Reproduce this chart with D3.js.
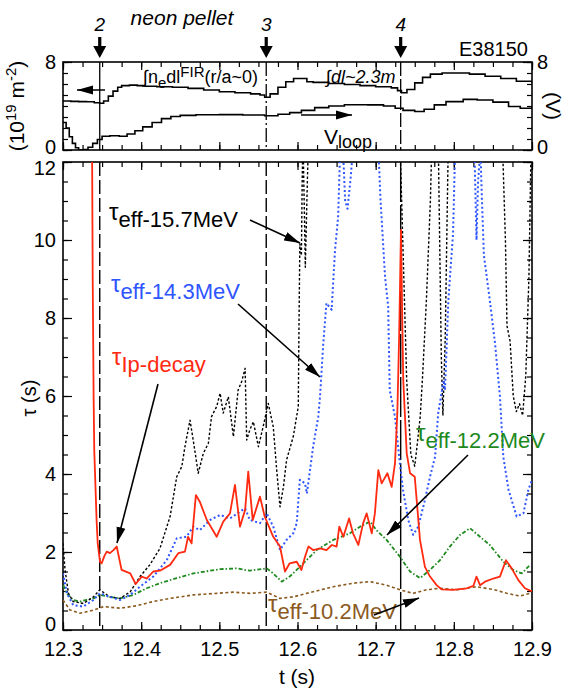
<!DOCTYPE html>
<html>
<head>
<meta charset="utf-8">
<script src="https://cdn.jsdelivr.net/npm/d3@7"></script>
<style>
  body { margin: 0; background: #fff; }
  text { font-family: "Liberation Sans", Arial, Helvetica, sans-serif; }
</style>
</head>
<body>
<svg id="chart" width="567" height="693"></svg>
<script>
// pellet injection times and their numbers
var pellets = [12.347, 12.56, 12.732];
var pelletLabels = ["2", "3", "4"];

// top panel: line density (10^19 m^-2) and loop voltage (V)
var density = [[12.300,4.45],[12.310,4.42],[12.320,4.40],[12.330,4.38],[12.340,4.30],[12.347,4.25],[12.352,4.45],
  [12.358,4.9],[12.364,5.35],[12.370,5.7],[12.375,5.85],[12.385,5.9],[12.395,5.85],[12.405,5.8],[12.420,5.75],
  [12.440,5.7],[12.460,5.6],[12.480,5.45],[12.500,5.3],[12.520,5.2],[12.540,5.1],[12.552,5.0],[12.558,4.8],
  [12.565,5.1],[12.575,5.7],[12.585,6.2],[12.595,6.5],[12.605,6.5],[12.612,6.2],[12.620,6.15],[12.640,6.05],
  [12.660,5.95],[12.680,5.85],[12.700,5.75],[12.720,5.65],[12.728,5.4],[12.733,5.2],[12.740,5.5],[12.750,6.1],
  [12.760,6.6],[12.770,6.9],[12.785,7.0],[12.800,7.0],[12.820,6.9],[12.840,6.7],[12.860,6.5],[12.880,6.25],[12.900,6.1]];
var vloop = [[12.300,2.5],[12.304,2.0],[12.308,1.2],[12.312,0.6],[12.316,0.2],[12.320,0.02],[12.326,0.05],[12.332,0.25],
  [12.338,0.6],[12.344,0.95],[12.350,1.25],[12.360,1.3],[12.372,1.25],[12.382,1.45],[12.392,1.75],[12.402,2.1],
  [12.414,2.5],[12.426,2.85],[12.438,3.05],[12.450,3.15],[12.470,3.2],[12.500,3.22],[12.530,3.18],[12.558,3.12],
  [12.575,3.25],[12.590,3.4],[12.605,3.6],[12.622,3.85],[12.640,4.0],[12.660,4.12],[12.690,4.1],[12.710,4.0],
  [12.725,3.8],[12.735,3.6],[12.750,3.5],[12.762,3.7],[12.775,4.1],[12.790,4.4],[12.812,4.6],[12.830,4.55],
  [12.850,4.35],[12.870,3.95],[12.885,3.8],[12.900,3.95]];

// bottom panel: decay times (s)
var ipDecay = [[12.3368,14],[12.3380,9],[12.3392,5.9],[12.340,4.6],[12.3415,3.7],[12.343,2.8],[12.3444,2.23],
  [12.3473,1.75],[12.3495,1.71],[12.353,1.9],[12.356,2.01],[12.360,1.97],[12.3645,2.05],[12.3687,2.14],[12.375,1.54],
  [12.386,1.45],[12.393,1.18],[12.4007,1.37],[12.407,1.32],[12.4155,1.50],[12.424,1.52],[12.437,1.67],[12.4475,1.97],
  [12.456,2.01],[12.460,2.39],[12.4645,2.22],[12.470,3.46],[12.475,3.29],[12.484,2.82],[12.4966,2.39],[12.505,2.78],
  [12.5136,2.99],[12.520,3.72],[12.5264,2.65],[12.533,3.08],[12.537,4.06],[12.5427,2.82],[12.552,3.42],[12.558,2.91],
  [12.569,2.39],[12.5776,2.14],[12.584,1.50],[12.590,1.71],[12.599,1.75],[12.605,1.54],[12.6096,1.88],[12.614,2.14],
  [12.620,2.05],[12.629,2.09],[12.637,2.05],[12.644,2.18],[12.650,2.14],[12.6535,2.65],[12.6586,2.39],[12.666,2.86],
  [12.671,2.48],[12.6778,2.18],[12.684,2.74],[12.6885,2.99],[12.695,2.48],[12.699,2.99],[12.7034,4.10],[12.7077,3.76],
  [12.715,4.02],[12.7205,3.67],[12.7247,4.27],[12.7277,5.56],[12.730,7.5],[12.7324,10.26],[12.734,8.0],[12.7353,6.41],
  [12.7397,4.53],[12.744,4.02],[12.750,3.93],[12.7567,2.31],[12.763,1.62],[12.7695,1.37],[12.778,1.15],[12.7845,1.04],
  [12.799,1.03],[12.8165,1.07],[12.825,1.13],[12.829,1.37],[12.8335,1.15],[12.840,1.24],[12.8505,1.32],[12.859,1.37],
  [12.8667,1.79],[12.874,1.58],[12.8825,1.28],[12.891,1.07],[12.8975,1.01],[12.900,1.0]];
var eff157 = [[12.300,2.22],[12.3026,1.54],[12.307,0.94],[12.313,0.73],[12.326,0.68],[12.339,0.85],[12.347,1.03],
  [12.360,0.85],[12.373,0.81],[12.386,0.98],[12.3985,1.37],[12.411,1.67],[12.424,2.09],[12.437,2.91],[12.4455,3.93],
  [12.452,4.19],[12.456,4.70],[12.4625,5.38],[12.4689,4.57],[12.473,4.02],[12.4795,4.53],[12.486,4.79],[12.490,5.47],
  [12.4966,5.73],[12.501,6.07],[12.505,5.56],[12.5115,5.98],[12.518,4.96],[12.524,6.15],[12.5286,6.37],[12.533,6.71],
  [12.535,4.87],[12.539,5.13],[12.5435,5.34],[12.550,4.70],[12.556,5.21],[12.5626,5.81],[12.569,5.21],[12.5734,4.10],
  [12.5776,3.16],[12.582,3.67],[12.586,4.36],[12.5946,4.96],[12.601,5.73],[12.602,8.0],[12.603,9.9],[12.605,9.6],
  [12.606,11.5],[12.607,12.6],[12.609,10.5],[12.610,9.3],[12.612,11],[12.614,12.6],[12.670,13],[12.731,12.6],
  [12.7397,6.41],[12.745,4.5],[12.750,4.2],[12.7545,5.0],[12.757,5.47],[12.760,6.5],[12.765,8.5],[12.768,10.0],
  [12.770,11.0],[12.772,12.6],[12.776,13],[12.780,12.6],[12.784,7.0],[12.786,5.5],[12.789,7.5],[12.793,12.6],
  [12.830,13],[12.862,12.6],[12.866,10],[12.868,7.8],[12.872,7.4],[12.876,6.0],[12.880,5.6],[12.884,5.8],
  [12.888,5.5],[12.892,6.5],[12.896,9],[12.899,12.6]];
var eff143 = [[12.300,1.45],[12.305,0.94],[12.313,0.64],[12.326,0.60],[12.339,0.77],[12.347,0.94],[12.360,0.85],
  [12.373,0.77],[12.386,0.90],[12.3985,1.11],[12.4155,1.37],[12.4327,1.79],[12.4455,2.35],[12.458,2.39],[12.4667,2.65],
  [12.475,2.56],[12.488,2.82],[12.501,2.95],[12.5136,2.86],[12.526,3.03],[12.533,3.12],[12.539,2.82],[12.552,2.74],
  [12.5606,2.99],[12.569,2.65],[12.5776,2.05],[12.586,2.31],[12.5946,2.48],[12.599,2.74],[12.603,3.85],[12.6096,3.76],
  [12.612,3.50],[12.620,4.70],[12.6266,5.47],[12.6288,5.98],[12.633,7.35],[12.637,8.38],[12.6437,8.21],[12.648,9.74],
  [12.652,10.6],[12.655,12.6],[12.658,12.4],[12.661,11.0],[12.664,10.8],[12.668,11.6],[12.672,12.6],[12.690,13],
  [12.703,12.6],[12.706,11.1],[12.712,9.06],[12.716,8.29],[12.718,6.15],[12.7247,5.47],[12.731,4.27],[12.735,3.59],
  [12.7417,2.82],[12.748,2.44],[12.7545,2.65],[12.763,3.33],[12.7695,3.93],[12.776,4.44],[12.780,5.56],[12.787,6.41],
  [12.7887,6.15],[12.793,8.46],[12.799,10.17],[12.802,12.6],[12.815,13],[12.826,12.6],[12.829,10.0],[12.831,11.5],
  [12.834,12.3],[12.836,11.0],[12.8385,9.6],[12.846,8.46],[12.8527,7.35],[12.859,5.98],[12.8633,4.44],[12.870,3.59],
  [12.8804,2.91],[12.889,2.99],[12.8953,3.59],[12.900,3.85]];
var eff122 = [[12.3004,1.15],[12.3047,0.94],[12.313,0.77],[12.3217,0.73],[12.330,0.77],[12.339,0.81],[12.347,0.90],
  [12.360,0.85],[12.373,0.81],[12.390,0.90],[12.407,1.07],[12.424,1.20],[12.4455,1.33],[12.4667,1.45],[12.488,1.52],
  [12.501,1.56],[12.522,1.58],[12.539,1.52],[12.5606,1.58],[12.569,1.45],[12.5798,1.24],[12.590,1.37],[12.603,1.62],
  [12.6245,2.05],[12.6458,2.31],[12.667,2.48],[12.680,2.65],[12.6927,2.78],[12.701,2.56],[12.714,2.31],[12.731,1.88],
  [12.744,1.50],[12.7567,1.33],[12.7695,1.54],[12.7823,1.79],[12.795,2.14],[12.808,2.44],[12.8207,2.61],[12.8335,2.39],
  [12.846,2.18],[12.8633,1.75],[12.876,1.54],[12.8868,1.45],[12.8975,1.67]];
var eff102 = [[12.300,0.77],[12.309,0.51],[12.322,0.43],[12.339,0.51],[12.3516,0.60],[12.373,0.56],[12.394,0.62],
  [12.4155,0.73],[12.437,0.81],[12.4667,0.90],[12.4966,0.94],[12.518,0.97],[12.539,0.94],[12.5606,0.97],[12.5776,0.81],
  [12.5946,0.85],[12.612,0.94],[12.6458,1.11],[12.671,1.20],[12.6927,1.24],[12.714,1.15],[12.731,1.03],[12.748,0.94],
  [12.765,1.03],[12.7823,1.07],[12.8036,1.03],[12.829,1.11],[12.8505,1.04],[12.8676,0.94],[12.8846,0.87],[12.8975,0.94]];

var xTicks = [12.3, 12.4, 12.5, 12.6, 12.7, 12.8, 12.9];

var svg = d3.select("#chart");
var font = "'Liberation Sans', Arial, Helvetica, sans-serif";

var x = d3.scaleLinear().domain([12.3, 12.9]).range([63, 532]);
var yTop = d3.scaleLinear().domain([0, 8]).range([150, 62]);
var yBot = d3.scaleLinear().domain([0, 12]).range([630, 162]);

var minorX = d3.range(12.3, 12.9001, 0.025);

// arrow marker
var defs = svg.append("defs");
defs.append("marker").attr("id", "head")
  .attr("markerUnits", "userSpaceOnUse")
  .attr("viewBox", "-16 -5 17 10")
  .attr("markerWidth", 17).attr("markerHeight", 10)
  .attr("refX", 0).attr("refY", 0).attr("orient", "auto")
  .append("path").attr("d", "M0,0L-16,-4.5L-16,4.5Z").attr("fill", "#000");
defs.append("clipPath").attr("id", "clipBot").append("rect")
  .attr("x", 63).attr("y", 162).attr("width", 469).attr("height", 468);
defs.append("clipPath").attr("id", "clipTop").append("rect")
  .attr("x", 63).attr("y", 62).attr("width", 469).attr("height", 88);

// labelShift nudges end labels inward so they don't collide with the other panel
function frameAxes(g, y, yMinor, yMajor, showRight, labelSet, labelShift) {
  var x0 = x.range()[0], x1 = x.range()[1];
  var yr = y.range();
  g.append("g").attr("transform", "translate(0," + yr[0] + ")")
    .call(d3.axisBottom(x).tickValues(minorX).tickSize(-5).tickFormat(""));
  g.append("g").attr("transform", "translate(0," + yr[1] + ")")
    .call(d3.axisTop(x).tickValues(minorX).tickSize(-5).tickFormat(""));
  g.append("g").attr("transform", "translate(0," + yr[0] + ")")
    .call(d3.axisBottom(x).tickValues(xTicks).tickSize(-8).tickFormat(""));
  g.append("g").attr("transform", "translate(0," + yr[1] + ")")
    .call(d3.axisTop(x).tickValues(xTicks).tickSize(-8).tickFormat(""));
  g.append("g").attr("transform", "translate(" + x0 + ",0)")
    .call(d3.axisLeft(y).tickValues(yMinor).tickSize(-5).tickFormat(""));
  g.append("g").attr("transform", "translate(" + x1 + ",0)")
    .call(d3.axisRight(y).tickValues(yMinor).tickSize(-5).tickFormat(""));
  g.append("g").attr("transform", "translate(" + x0 + ",0)")
    .call(d3.axisLeft(y).tickValues(yMajor).tickSize(-9).tickPadding(7)
      .tickFormat(function(d) { return labelSet.indexOf(d) >= 0 ? d : ""; }));
  g.append("g").attr("transform", "translate(" + x1 + ",0)")
    .call(d3.axisRight(y).tickValues(yMajor).tickSize(-9).tickPadding(5)
      .tickFormat(function(d) { return showRight && labelSet.indexOf(d) >= 0 ? d : ""; }));
  g.selectAll(".domain").remove();
  g.selectAll(".tick line").attr("stroke", "#000").attr("stroke-width", 1.2);
  g.selectAll(".tick text").attr("font-size", 20).attr("font-family", font).attr("fill", "#000")
    .attr("y", function(d) { return labelShift[d] || 0; });
  g.append("rect").attr("x", x0).attr("y", yr[1]).attr("width", x1 - x0).attr("height", yr[0] - yr[1])
    .attr("fill", "none").attr("stroke", "#000").attr("stroke-width", 1.6);
}

// ---------- top panel ----------
var gTop = svg.append("g");
frameAxes(gTop, yTop, d3.range(0, 8.01, 1), [0, 8], true, [0, 8], { 0: -3, 8: 0 });

var lineTop = d3.line().x(function(d) { return x(d[0]); }).y(function(d) { return yTop(d[1]); })
  .curve(d3.curveStepAfter);
var gTopData = gTop.append("g").attr("clip-path", "url(#clipTop)");
gTopData.append("path").datum(density).attr("d", lineTop)
  .attr("fill", "none").attr("stroke", "#000").attr("stroke-width", 1.6);
gTopData.append("path").datum(vloop).attr("d", lineTop)
  .attr("fill", "none").attr("stroke", "#000").attr("stroke-width", 1.6);

var topDash = [null, "14,3,2,3", "14,3"];
pellets.forEach(function(p, i) {
  gTop.append("line").attr("x1", x(p)).attr("x2", x(p)).attr("y1", 62).attr("y2", 150)
    .attr("stroke", "#000").attr("stroke-width", 1.3).attr("stroke-dasharray", topDash[i]);
  // pellet arrow above the panel
  svg.append("rect").attr("x", x(p) - 1.6).attr("y", 37).attr("width", 3.2).attr("height", 10).attr("fill", "#000");
  svg.append("path").attr("d", "M" + (x(p) - 6.5) + ",46L" + (x(p) + 6.5) + ",46L" + x(p) + ",58Z").attr("fill", "#000");
  svg.append("text").attr("x", x(p)).attr("y", 31).attr("text-anchor", "middle")
    .attr("font-size", 19).attr("font-style", "italic").text(pelletLabels[i]);
});

svg.append("text").attr("x", 182).attr("y", 25).attr("text-anchor", "middle")
  .attr("font-size", 21).attr("font-style", "italic").text("neon pellet");
svg.append("text").attr("x", 528).attr("y", 56).attr("text-anchor", "end")
  .attr("font-size", 20).text("E38150");

var tN = svg.append("text").attr("x", 143).attr("y", 83).attr("font-size", 18);
tN.append("tspan").text("\u222Bn");
tN.append("tspan").attr("dy", 5).attr("font-size", 15).text("e");
tN.append("tspan").attr("dy", -5).text("dl");
tN.append("tspan").attr("dy", -6).attr("font-size", 15).text("FIR");
tN.append("tspan").attr("dy", 6).text("(r/a~0)");
svg.append("text").attr("x", 326).attr("y", 83).attr("font-size", 18).attr("font-style", "italic")
  .text("\u222Bdl~2.3m");

var tV = svg.append("text").attr("x", 324).attr("y", 144).attr("font-size", 21);
tV.append("tspan").text("V");
tV.append("tspan").attr("dy", 4).attr("font-size", 18).text("loop");

svg.append("line").attr("x1", 105).attr("y1", 90).attr("x2", 77).attr("y2", 90)
  .attr("stroke", "#000").attr("stroke-width", 1.5).attr("marker-end", "url(#head)");
svg.append("line").attr("x1", 301).attr("y1", 115).attr("x2", 352).attr("y2", 115)
  .attr("stroke", "#000").attr("stroke-width", 1.5).attr("marker-end", "url(#head)");

svg.append("text").attr("transform", "translate(24,106) rotate(-90)").attr("text-anchor", "middle")
  .attr("font-size", 21).html('(10<tspan dy="-8" font-size="15">19</tspan><tspan dy="8"> m</tspan><tspan dy="-8" font-size="15">-2</tspan><tspan dy="8">)</tspan>');
svg.append("text").attr("transform", "translate(546,106) rotate(90)").attr("text-anchor", "middle")
  .attr("font-size", 21).text("(V)");

// ---------- bottom panel ----------
var gBot = svg.append("g");
frameAxes(gBot, yBot, d3.range(0, 12.01, 0.5), d3.range(0, 12.01, 2), false, d3.range(0, 12.01, 2), { 12: 6, 0: -6 });
gBot.append("g").attr("transform", "translate(0,630)")
  .call(d3.axisBottom(x).tickValues(xTicks).tickSize(0).tickPadding(12).tickFormat(d3.format(".1f")))
  .call(function(g) { g.select(".domain").remove(); })
  .selectAll("text").attr("font-size", 20).attr("font-family", font).attr("fill", "#000");

var botDash = ["14,4", "14,4", "40,3"];
pellets.forEach(function(p, i) {
  gBot.append("line").attr("x1", x(p)).attr("x2", x(p)).attr("y1", 162).attr("y2", 630)
    .attr("stroke", "#000").attr("stroke-width", 1.4).attr("stroke-dasharray", botDash[i]);
});

var lineBot = d3.line().x(function(d) { return x(d[0]); }).y(function(d) { return yBot(d[1]); });
var gBotData = gBot.append("g").attr("clip-path", "url(#clipBot)");
var series = [
  { data: eff102, color: "#8B5A1E", dash: "3,2.5", w: 1.6 },
  { data: eff122, color: "#1E8A1E", dash: "4,2,1.5,2", w: 1.8 },
  { data: eff157, color: "#000000", dash: "2.5,2", w: 1.4 },
  { data: eff143, color: "#2E55FF", dash: "2,2.5", w: 2 },
  { data: ipDecay, color: "#FF2A10", dash: null, w: 1.8 }
];
series.forEach(function(s) {
  gBotData.append("path").datum(s.data).attr("d", lineBot)
    .attr("fill", "none").attr("stroke", s.color).attr("stroke-width", s.w)
    .attr("stroke-dasharray", s.dash).attr("stroke-linejoin", "round");
});

function tauLabel(xp, yp, sub, color) {
  var t = svg.append("text").attr("x", xp).attr("y", yp).attr("fill", color).attr("font-size", 24);
  t.append("tspan").text("\u03C4");
  t.append("tspan").attr("dy", 7).attr("font-size", 22).text(sub);
}
tauLabel(109, 220, "eff-15.7MeV", "#000");
tauLabel(111, 292, "eff-14.3MeV", "#2E55FF");
tauLabel(112, 365, "Ip-decay", "#FF2A10");
tauLabel(416, 441, "eff-12.2MeV", "#1E8A1E");
tauLabel(268, 612, "eff-10.2MeV", "#8B5A1E");

function arrow(x1, y1, x2, y2) {
  svg.append("line").attr("x1", x1).attr("y1", y1).attr("x2", x2).attr("y2", y2)
    .attr("stroke", "#000").attr("stroke-width", 1.6).attr("marker-end", "url(#head)");
}
arrow(250, 220, 300, 243);
arrow(238, 304, 320, 377);
arrow(158, 384, 117, 543);
arrow(468, 455, 387, 535);
arrow(374, 615, 419, 598);

svg.append("text").attr("transform", "translate(36,398) rotate(-90)").attr("text-anchor", "middle")
  .attr("font-size", 20).text("\u03C4 (s)");
svg.append("text").attr("x", 297).attr("y", 684).attr("text-anchor", "middle")
  .attr("font-size", 21).text("t (s)");
</script>
</body>
</html>
